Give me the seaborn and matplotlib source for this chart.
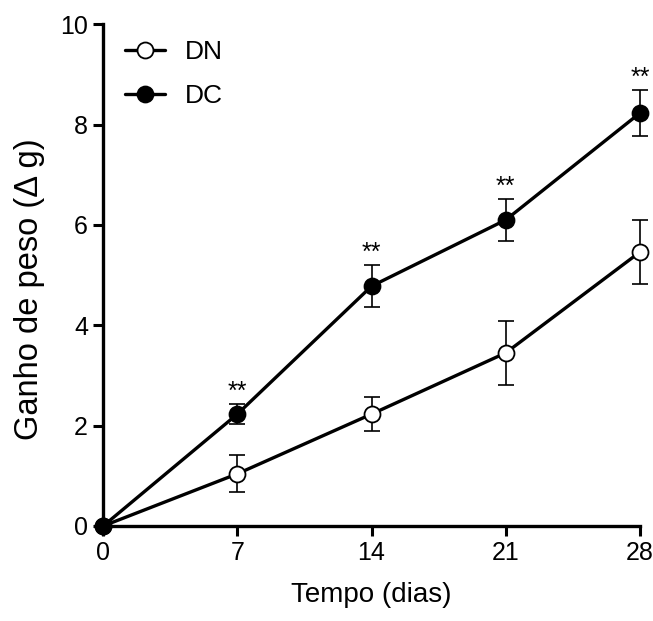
import pandas as pd
import matplotlib
matplotlib.use("Agg")
import matplotlib.pyplot as plt
import seaborn as sns

# Values
days = [0, 7, 14, 21, 28]
dn_mean = [0.0, 1.04, 2.23, 3.45, 5.46]
dn_sem = [0.0, 0.37, 0.34, 0.64, 0.64]
dc_mean = [0.0, 2.23, 4.78, 6.10, 8.23]
dc_sem = [0.0, 0.20, 0.42, 0.42, 0.46]
signif = ["", "**", "**", "**", "**"]

sns.set_theme(style="ticks")
plt.rcParams["font.family"] = ["Liberation Sans", "DejaVu Sans"]
plt.rcParams["text.color"] = "black"
plt.rcParams["axes.labelcolor"] = "black"

df = pd.DataFrame({
    "day": days * 2,
    "gain": dn_mean + dc_mean,
    "sem": dn_sem + dc_sem,
    "group": ["DN"] * 5 + ["DC"] * 5,
})

fig = plt.figure(figsize=(6.53, 6.21), dpi=100)
ax = fig.add_axes([0.158, 0.153, 0.822, 0.808])

faces = {"DN": "white", "DC": "black"}
for grp in ["DN", "DC"]:
    sub = df[df["group"] == grp]
    ax.errorbar(sub["day"], sub["gain"], yerr=sub["sem"], fmt="none",
                ecolor="black", elinewidth=1.2, capsize=5.5, capthick=1.2,
                clip_on=False, zorder=2)
    sns.lineplot(data=sub, x="day", y="gain", ax=ax, color="black",
                 linewidth=2.4, marker="o", markersize=11.5,
                 markerfacecolor=faces[grp], markeredgecolor="black",
                 markeredgewidth=1.3, label=grp, clip_on=False, zorder=3)

# significance stars above DC error bars
for d, m, s, t in zip(days, dc_mean, dc_sem, signif):
    if t:
        ax.text(d, m + s + 0.0, t, ha="center", va="bottom", fontsize=18)

ax.set_xlim(0, 28)
ax.set_ylim(0, 10)
ax.set_xticks(days)
ax.set_yticks([0, 2, 4, 6, 8, 10])
ax.set_xlabel("Tempo (dias)", fontsize=20, labelpad=12)
ax.set_ylabel("Ganho de peso (Δ g)", fontsize=23.5)
ax.yaxis.set_label_coords(-0.108, 0.472)
ax.tick_params(axis="both", labelsize=18, width=2.2, length=7, pad=4,
               color="black", labelcolor="black")
for side in ["left", "bottom"]:
    ax.spines[side].set_linewidth(2.4)
    ax.spines[side].set_color("black")
sns.despine(ax=ax)

ax.legend(loc="upper left", bbox_to_anchor=(0.012, 1.0), frameon=False,
          fontsize=19, handlelength=1.5, handletextpad=0.75,
          labelspacing=0.75, borderaxespad=0.2)

fig.savefig("out.png", dpi=100)
